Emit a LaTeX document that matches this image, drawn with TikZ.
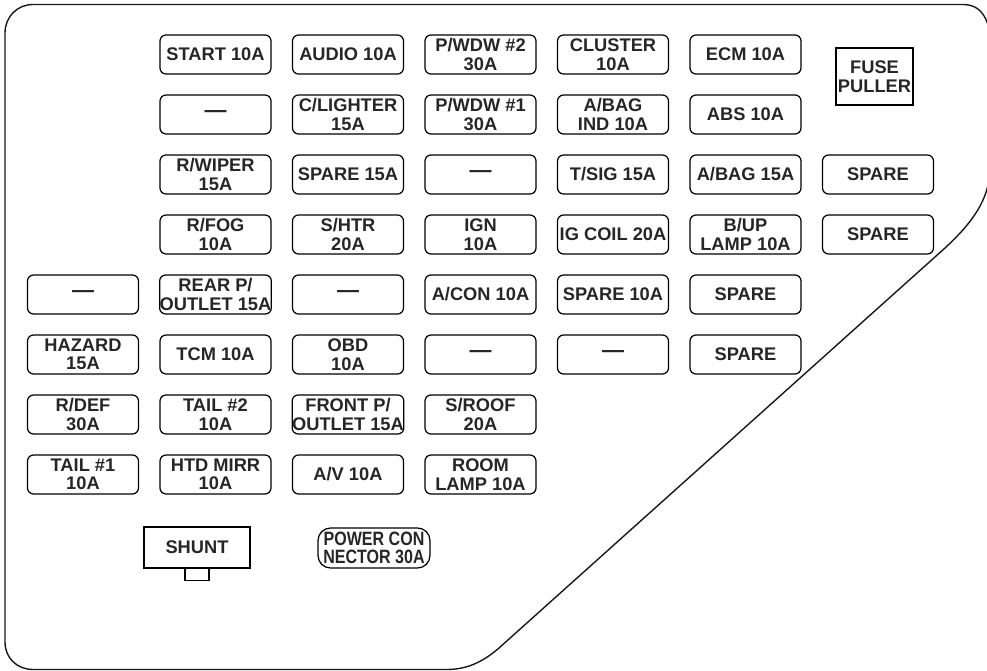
\documentclass[tikz,border=0pt]{standalone}
\usepackage{fontspec}
\setmainfont{Liberation Sans}
\newfontfamily\narrowsans[FakeStretch=0.83]{Liberation Sans}
\usetikzlibrary{calc,positioning}
\tikzstyle{fuse} = [draw, rounded corners=0.12cm, minimum width=2.22cm, minimum height=0.78cm, inner sep=0pt, align=center, line width=0.7pt, text=black!85, font=\fontsize{10.4}{10.5}\selectfont\bfseries]
\tikzstyle{puller} = [fuse, rounded corners=0pt, minimum width=1.54cm, minimum height=1.14cm, font=\fontsize{10.4}{10.8}\selectfont\bfseries]
\tikzstyle{shuntbox} = [fuse, rounded corners=0pt, minimum width=2.12cm, minimum height=0.82cm]
\tikzstyle{powercon} = [fuse, rounded corners=0.25cm, minimum width=2.24cm, minimum height=0.8cm, font=\narrowsans\fontsize{11}{10.2}\selectfont\bfseries]
\tikzstyle{outline} = [line width=0.8pt, black!90]
\newcommand{\Fuse}[4]% #1=name, #2=column, #3=row, #4=label
{\node[fuse] (#1) at ({83+132.5*#2},{54.5+60*#3}) {#4};}
\newcommand{\Blank}{{\fontsize{12.5}{12}\selectfont —}}

\begin{document}
\begin{tikzpicture}[x=0.02cm, y=-0.02cm]

	\useasboundingbox (0,0) rectangle (987,671);

	%% outline of the fuse box cover
	\draw[outline] (5,33) -- (5,642) .. controls (5,658) and (17,669.5) .. (33,669.5)
	  -- (447,669.5) .. controls (468,669.5) and (484,661) .. (499,648)
	  -- (945,248) .. controls (972,223) and (989,200) .. (990,170)
	  -- (992,60) .. controls (992,25) and (985,4.5) .. (963,4.5)
	  -- (33,4.5) .. controls (17,4.5) and (5,17) .. (5,33) -- cycle;

	%% row 0
	\Fuse{start}{1}{0}{START 10A}
	\Fuse{audio}{2}{0}{AUDIO 10A}
	\Fuse{pwdwtwo}{3}{0}{P/WDW \#2\\30A}
	\Fuse{cluster}{4}{0}{CLUSTER\\10A}
	\Fuse{ecm}{5}{0}{ECM 10A}
	\node[puller] (puller) at (874.5,76.5) {FUSE\\PULLER};

	%% row 1
	\Fuse{blanka}{1}{1}{\Blank}
	\Fuse{clighter}{2}{1}{C/LIGHTER\\15A}
	\Fuse{pwdwone}{3}{1}{P/WDW \#1\\30A}
	\Fuse{abagind}{4}{1}{A/BAG\\IND 10A}
	\Fuse{abs}{5}{1}{ABS 10A}

	%% row 2
	\Fuse{rwiper}{1}{2}{R/WIPER\\15A}
	\Fuse{sparefift}{2}{2}{SPARE 15A}
	\Fuse{blankb}{3}{2}{\Blank}
	\Fuse{tsig}{4}{2}{T/SIG 15A}
	\Fuse{abag}{5}{2}{A/BAG 15A}
	\Fuse{sparea}{6}{2}{SPARE}

	%% row 3
	\Fuse{rfog}{1}{3}{R/FOG\\10A}
	\Fuse{shtr}{2}{3}{S/HTR\\20A}
	\Fuse{ign}{3}{3}{IGN\\10A}
	\Fuse{igcoil}{4}{3}{IG COIL 20A}
	\Fuse{buplamp}{5}{3}{B/UP\\LAMP 10A}
	\Fuse{spareb}{6}{3}{SPARE}

	%% row 4
	\Fuse{blankc}{0}{4}{\Blank}
	\Fuse{rearp}{1}{4}{REAR P/\\OUTLET 15A}
	\Fuse{blankd}{2}{4}{\Blank}
	\Fuse{acon}{3}{4}{A/CON 10A}
	\Fuse{sparetena}{4}{4}{SPARE 10A}
	\Fuse{sparec}{5}{4}{SPARE}

	%% row 5
	\Fuse{hazard}{0}{5}{HAZARD\\15A}
	\Fuse{tcm}{1}{5}{TCM 10A}
	\Fuse{obd}{2}{5}{OBD\\10A}
	\Fuse{blanke}{3}{5}{\Blank}
	\Fuse{blankf}{4}{5}{\Blank}
	\Fuse{spared}{5}{5}{SPARE}

	%% row 6
	\Fuse{rdef}{0}{6}{R/DEF\\30A}
	\Fuse{tailtwo}{1}{6}{TAIL \#2\\10A}
	\Fuse{frontp}{2}{6}{FRONT P/\\OUTLET 15A}
	\Fuse{sroof}{3}{6}{S/ROOF\\20A}

	%% row 7
	\Fuse{tailone}{0}{7}{TAIL \#1\\10A}
	\Fuse{htdmirr}{1}{7}{HTD MIRR\\10A}
	\Fuse{av}{2}{7}{A/V 10A}
	\Fuse{roomlamp}{3}{7}{ROOM\\LAMP 10A}

	%% shunt and power connector
	\node[shuntbox] (shunt) at (197,547.5) {SHUNT};
	\draw[line width=0.7pt] ($(shunt.south)+(-12,0)$) -- ++(0,12) -- ++(24,0) -- ++(0,-12);
	\node[powercon] (powercon) at (374,548) {POWER CON\\NECTOR 30A};

\end{tikzpicture}
\end{document}
